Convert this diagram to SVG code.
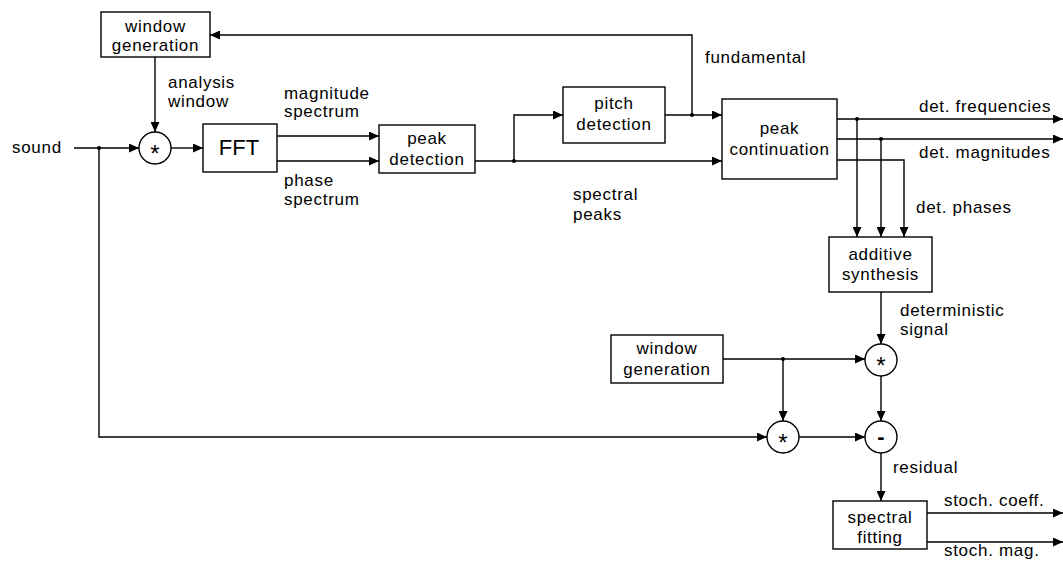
<svg xmlns="http://www.w3.org/2000/svg" width="1063" height="563" viewBox="0 0 1063 563">
<style>
.b{fill:#fff;stroke:#000;stroke-width:1.4}
.c{fill:none;stroke:#000;stroke-width:1.4}
text{font-family:"Liberation Sans",Arial,sans-serif;font-size:17px;letter-spacing:0.7px;fill:#000}
.m{text-anchor:middle}
.op{font-size:24px;text-anchor:middle;letter-spacing:0}
.mi{font-weight:bold;font-size:22px;text-anchor:middle;letter-spacing:0}
</style>
<defs>
<marker id="a" markerUnits="userSpaceOnUse" markerWidth="11" markerHeight="9" refX="10" refY="4.5" orient="auto">
<path d="M0,0 L10,4.5 L0,9 z" fill="#000"/>
</marker>
</defs>
<rect width="1063" height="563" fill="#fff"/>
<g id="connectors" class="c" marker-end="url(#a)">
<path d="M74,148 L139,148"/>
<path d="M99,148 L99,437 L767,437"/>
<path d="M155,57 L155,132"/>
<path d="M171,148 L203,148"/>
<path d="M277,136 L379,136"/>
<path d="M277,161 L379,161"/>
<path d="M475,161 L722,161"/>
<path d="M514,161 L514,115 L563,115"/>
<path d="M665,115 L722,115"/>
<path d="M692,115 L692,35 L210,35"/>
<path d="M837,119 L1063,119"/>
<path d="M837,139 L1063,139"/>
<path d="M837,160 L904,160 L904,237"/>
<path d="M857,119 L857,237"/>
<path d="M881,139 L881,237"/>
<path d="M881,292 L881,344"/>
<path d="M723,359 L865,359"/>
<path d="M783,359 L783,421"/>
<path d="M799,437 L865,437"/>
<path d="M881,376 L881,421"/>
<path d="M881,453 L881,501"/>
<path d="M927,513 L1063,513"/>
<path d="M927,542 L1063,542"/>
</g>
<g id="junctions" fill="#000">
<circle cx="99" cy="148" r="2"/>
<circle cx="514" cy="161" r="2"/>
<circle cx="692" cy="115" r="2"/>
<circle cx="857" cy="119" r="2"/>
<circle cx="881" cy="139" r="2"/>
<circle cx="783" cy="359" r="2"/>
</g>
<g id="labels">
<text x="12" y="153">sound</text>
<text x="168" y="88">analysis</text>
<text x="168" y="107">window</text>
<text x="284" y="99">magnitude</text>
<text x="284" y="117">spectrum</text>
<text x="284" y="186">phase</text>
<text x="284" y="205">spectrum</text>
<text x="573" y="200">spectral</text>
<text x="573" y="220">peaks</text>
<text x="705" y="63">fundamental</text>
<text x="919" y="112">det. frequencies</text>
<text x="919" y="158">det. magnitudes</text>
<text x="916" y="213">det. phases</text>
<text x="900" y="316">deterministic</text>
<text x="900" y="335">signal</text>
<text x="893" y="473">residual</text>
<text x="944" y="506">stoch. coeff.</text>
<text x="944" y="556">stoch. mag.</text>
</g>
<g id="window-generation-1"><rect class="b" x="101" y="12" width="109" height="45"/><text class="m" x="155.5" y="32">window</text><text class="m" x="155.5" y="51">generation</text></g>
<g id="mult-1"><circle class="b" cx="155" cy="148" r="16"/><text class="op" x="155" y="162">*</text></g>
<g id="fft"><rect class="b" x="203" y="124" width="74" height="48"/><text class="m" x="239" y="155" style="font-size:22px;letter-spacing:0">FFT</text></g>
<g id="peak-detection"><rect class="b" x="379" y="125" width="96" height="48"/><text class="m" x="427" y="144">peak</text><text class="m" x="427" y="165">detection</text></g>
<g id="pitch-detection"><rect class="b" x="563" y="87" width="102" height="56"/><text class="m" x="614" y="109">pitch</text><text class="m" x="614" y="130">detection</text></g>
<g id="peak-continuation"><rect class="b" x="722" y="99" width="115" height="80"/><text class="m" x="779.5" y="134">peak</text><text class="m" x="779.5" y="155">continuation</text></g>
<g id="additive-synthesis"><rect class="b" x="829" y="237" width="103" height="55"/><text class="m" x="880.5" y="260">additive</text><text class="m" x="880.5" y="280">synthesis</text></g>
<g id="window-generation-2"><rect class="b" x="611" y="335" width="112" height="48"/><text class="m" x="667" y="354">window</text><text class="m" x="667" y="375">generation</text></g>
<g id="mult-2"><circle class="b" cx="881" cy="360" r="16"/><text class="op" x="881" y="374">*</text></g>
<g id="mult-3"><circle class="b" cx="783" cy="437" r="16"/><text class="op" x="783" y="451">*</text></g>
<g id="minus"><circle class="b" cx="881" cy="437" r="16"/><text class="mi" x="881" y="444">-</text></g>
<g id="spectral-fitting"><rect class="b" x="833" y="501" width="94" height="48"/><text class="m" x="880" y="523">spectral</text><text class="m" x="880" y="543">fitting</text></g>
</svg>
